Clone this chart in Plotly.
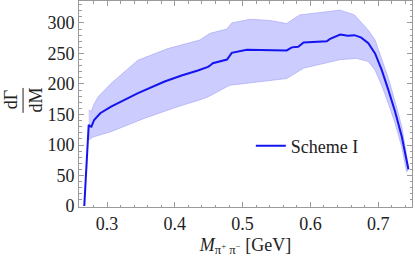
import plotly.graph_objects as go

# central curve (Scheme I)
x_c = [0.2665, 0.2730, 0.2750, 0.2770, 0.2810, 0.2900, 0.3060, 0.3457, 0.3850, 0.4100,
       0.4340, 0.4490, 0.4530, 0.4560, 0.4770, 0.4800, 0.4840, 0.5060, 0.5400, 0.5650,
       0.5725, 0.5820, 0.5900, 0.6240, 0.6290, 0.6440, 0.6550, 0.6650, 0.6750, 0.6854,
       0.6953, 0.7051, 0.7150, 0.7248, 0.7347, 0.7445]
v_c = [0, 133, 131, 130, 141, 152, 163, 185, 204, 214,
       222, 228, 231, 234, 240, 244, 251, 256, 256, 255,
       260, 261, 268, 270, 274, 281, 279, 280, 276, 267,
       250, 223, 190, 155, 114, 60]

# upper edge of uncertainty band
x_u = [0.2730, 0.2770, 0.2800, 0.2870, 0.3060, 0.3457, 0.3900, 0.4370, 0.4520, 0.4770,
       0.4840, 0.5110, 0.5400, 0.5650, 0.5840, 0.6440, 0.6650, 0.6854, 0.6953, 0.7051,
       0.7150, 0.7248, 0.7347, 0.7450]
v_u = [157, 155, 165, 179, 201, 239, 258, 272, 283, 290,
       300, 306, 304, 299, 313, 321, 313, 288, 272, 242,
       209, 171, 130, 62]

# lower edge of uncertainty band
x_l = [0.2730, 0.2790, 0.3060, 0.3556, 0.4047, 0.4370, 0.4490, 0.4810, 0.5650, 0.5900,
       0.6440, 0.6680, 0.6854, 0.6953, 0.7051, 0.7150, 0.7248, 0.7347, 0.7420]
v_l = [108, 113, 122, 144, 163, 174, 179, 198, 209, 226,
       240, 242, 237, 223, 198, 168, 136, 97, 56]

x_ticks = [0.3, 0.4, 0.5, 0.6, 0.7]
y_ticks = [0, 50, 100, 150, 200, 250, 300]

FONT = "Liberation Serif, Times New Roman, serif"
FRAME = "#9a9a9a"
TXT = "#222"
FS = 18

fig = go.Figure()
fig.add_trace(go.Scatter(
    x=x_u + x_l[::-1], y=v_u + v_l[::-1],
    fill="toself", fillcolor="rgb(204,204,255)",
    line=dict(color="rgb(175,175,245)", width=0.8),
    mode="lines", showlegend=False, hoverinfo="skip"))
fig.add_trace(go.Scatter(
    x=x_c, y=v_c, mode="lines", name="Scheme I",
    line=dict(color="rgb(20,20,240)", width=2)))

axis_common = dict(
    showline=True, linecolor=FRAME, linewidth=1, mirror="ticks",
    ticks="inside", ticklen=5, tickcolor=FRAME, tickwidth=1,
    showgrid=False, zeroline=False,
    tickfont=dict(family=FONT, size=FS, color=TXT),
)

fig.update_xaxes(
    range=[0.2587, 0.7498], tickvals=x_ticks, ticktext=[f"{t:.1f}" for t in x_ticks],
    minor=dict(dtick=0.02, ticks="inside", ticklen=2.5, tickcolor=FRAME, tickwidth=1, showgrid=False),
    title=dict(text="<i>M</i><sub>π<sup>+</sup> π<sup>−</sup></sub> [GeV]",
               font=dict(family=FONT, size=FS, color=TXT), standoff=5),
    **axis_common)
fig.update_yaxes(
    range=[-1.6, 336], tickvals=y_ticks, ticktext=[str(t) for t in y_ticks],
    minor=dict(dtick=10, ticks="inside", ticklen=2.5, tickcolor=FRAME, tickwidth=1, showgrid=False),
    **axis_common)

# rotated fraction label dΓ/dM
fig.add_annotation(text="dΓ", xref="paper", yref="paper", x=-0.204, y=0.519,
                   textangle=-90, showarrow=False, xanchor="center", yanchor="middle",
                   font=dict(family=FONT, size=FS, color=TXT))
fig.add_annotation(text="dM", xref="paper", yref="paper", x=-0.128, y=0.519,
                   textangle=-90, showarrow=False, xanchor="center", yanchor="middle",
                   font=dict(family=FONT, size=FS, color=TXT))
fig.add_shape(type="line", xref="paper", yref="paper", x0=-0.168, x1=-0.168,
              y0=0.457, y1=0.578, line=dict(color=TXT, width=1))

fig.update_layout(
    width=415, height=258,
    margin=dict(l=79, r=3, t=1, b=51),
    paper_bgcolor="white", plot_bgcolor="white",
    showlegend=True,
    legend=dict(x=0.516, y=0.296, xanchor="left", yanchor="middle",
                bgcolor="rgba(0,0,0,0)", font=dict(family=FONT, size=FS, color=TXT)),
)

fig.write_html("out.html", config={"displayModeBar": False},
               post_script="document.body.style.margin='0';document.body.style.overflow='hidden';")
